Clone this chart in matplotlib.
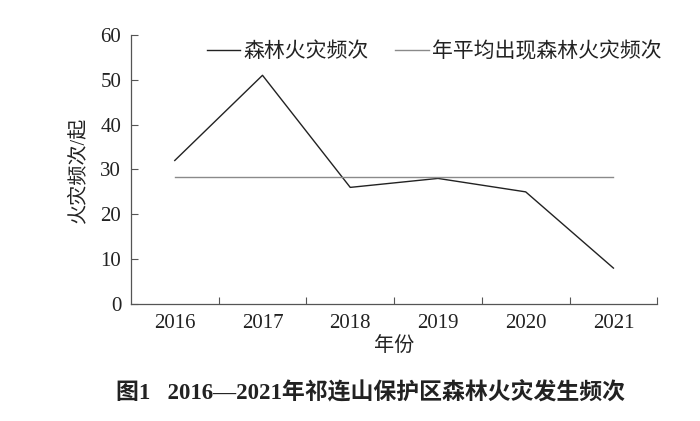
import matplotlib
matplotlib.use('Agg')
import matplotlib.pyplot as plt
import numpy as np

# 数据
anos = ['2016', '2017', '2018', '2019', '2020', '2021']
freq = [32, 51, 26, 28, 25, 8]
media = sum(freq) / len(freq)

plt.rcParams['font.family'] = ['Liberation Serif', 'Noto Sans CJK SC']

fig = plt.figure(figsize=(7, 4.21), dpi=100)
ax = fig.add_axes([0.187, 0.278, 0.752, 0.639])

x = np.arange(len(anos))
ax.plot(x, freq, color='#222222', lw=1.0, label='森林火灾频次')
ax.plot(x, [media] * len(x), color='#8a8a8a', lw=1.0, label='年平均出现森林火灾频次')

ax.set_xlim(-0.5, len(anos) - 0.5)
ax.set_ylim(0, 60)
ax.set_yticks(range(0, 61, 10))
ax.set_xticks(x)
ax.set_xticklabels(anos)
ax.set_xticks(np.arange(0.5, len(anos), 1), minor=True)
ax.tick_params(axis='x', which='major', length=0, pad=7, labelsize=15, colors='#222222')
ax.tick_params(axis='x', which='minor', direction='in', length=5, width=0.8, color='#555555')
ax.tick_params(axis='y', direction='in', length=5, width=0.8, color='#555555', labelsize=15,
               labelcolor='#222222', pad=7)

for s in ['top', 'right']:
    ax.spines[s].set_visible(False)
for s in ['left', 'bottom']:
    ax.spines[s].set_color('#555555')
    ax.spines[s].set_linewidth(0.9)

ax.set_ylabel('火灾频次/起', fontsize=14.5, color='#222222', labelpad=9)
ax.set_xlabel('年份', fontsize=14.5, color='#222222', labelpad=3)

ax.legend(loc='center', bbox_to_anchor=(0.576, 0.937), ncol=2, frameon=False,
          fontsize=15, handlelength=1.6, handletextpad=0.15, columnspacing=1.3,
          labelcolor='#222222')

fig.text(0.53, 0.065, '图1   2016—2021年祁连山保护区森林火灾发生频次', ha='center', va='center',
         fontsize=16.5, fontweight='bold', color='#222222')

fig.savefig('out.png', dpi=100)
